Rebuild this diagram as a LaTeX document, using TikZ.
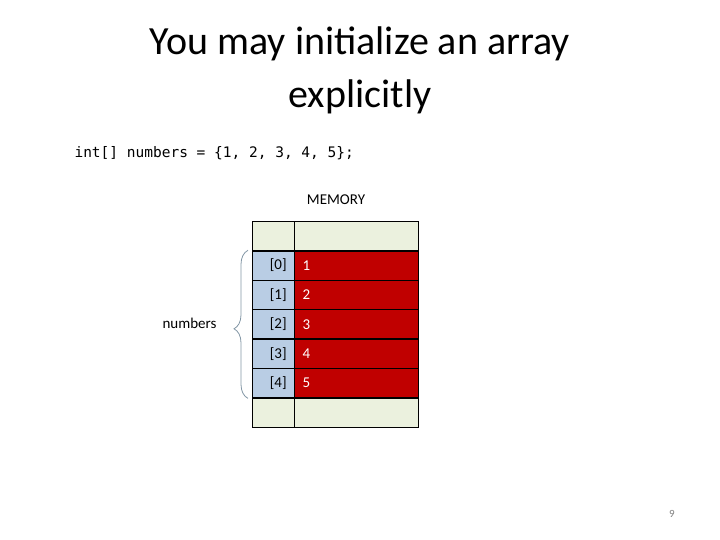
\documentclass[tikz,border=0pt]{standalone}
\usepackage{fontspec}
\setmainfont{Carlito}
\setmonofont{DejaVu Sans Mono}
\usetikzlibrary{decorations.pathreplacing}
\definecolor{cellred}{RGB}{192,0,0}
\definecolor{cellblue}{RGB}{185,205,228}
\definecolor{cellpale}{RGB}{235,241,222}
\definecolor{bracegray}{RGB}{130,150,165}
\tikzset{
  idxcell/.style={draw, line width=1.2pt, fill=cellblue, minimum width=42pt, minimum height=29.3pt, inner sep=0pt, anchor=north west},
  valcell/.style={draw, line width=1.2pt, fill=cellred, minimum width=124pt, minimum height=29.3pt, inner sep=0pt, anchor=north west},
  idxtext/.style={font=\fontsize{15}{18}\selectfont, anchor=east},
  valtext/.style={font=\fontsize{15}{18}\selectfont, text=white, anchor=west}
}
\begin{document}
\begin{tikzpicture}[x=1pt,y=-1pt]
\useasboundingbox (0,0) rectangle (720,540);

\node[align=center, font=\fontsize{40}{53}\selectfont] (title) at (360,70) {You may initialize an array\\explicitly};
\node[anchor=west, font=\ttfamily\fontsize{14.5}{17}\selectfont] (code) at (71,153) {int[] numbers = \{1, 2, 3, 4, 5\};};
\node[font=\fontsize{15}{18}\selectfont] (memory) at (336,200) {MEMORY};

% empty rows above and below
\node[idxcell, fill=cellpale] (top0) at (252,221) {};
\node[valcell, fill=cellpale] (top1) at (294,221) {};
\node[idxcell, fill=cellpale] (bot0) at (252,397.5) {};
\node[valcell, fill=cellpale] (bot1) at (294,397.5) {};

% array cells
\foreach \i in {0,...,4} {
  \pgfmathtruncatemacro{\v}{\i+1}
  \node[idxcell] (idx\i) at (252,250.3+29.4*\i) {};
  \node[valcell] (val\i) at (294,250.3+29.4*\i) {};
  \node[idxtext] at ([xshift=-5pt]idx\i.east) {[\i]};
  \node[valtext] at ([xshift=5pt]val\i.west) {\v};
}

\draw[bracegray, line width=0.8pt, decorate, decoration={brace, amplitude=14pt, aspect=0.47}]
  ([xshift=-4pt]idx4.south west) -- ([xshift=-4pt]idx0.north west) coordinate[midway] (bracetip);
\node[anchor=east, font=\fontsize{15}{18}\selectfont] (name) at (220,323) {numbers};

\node[text=gray, font=\fontsize{11}{13}\selectfont] (page) at (672,514) {9};
\end{tikzpicture}
\end{document}
